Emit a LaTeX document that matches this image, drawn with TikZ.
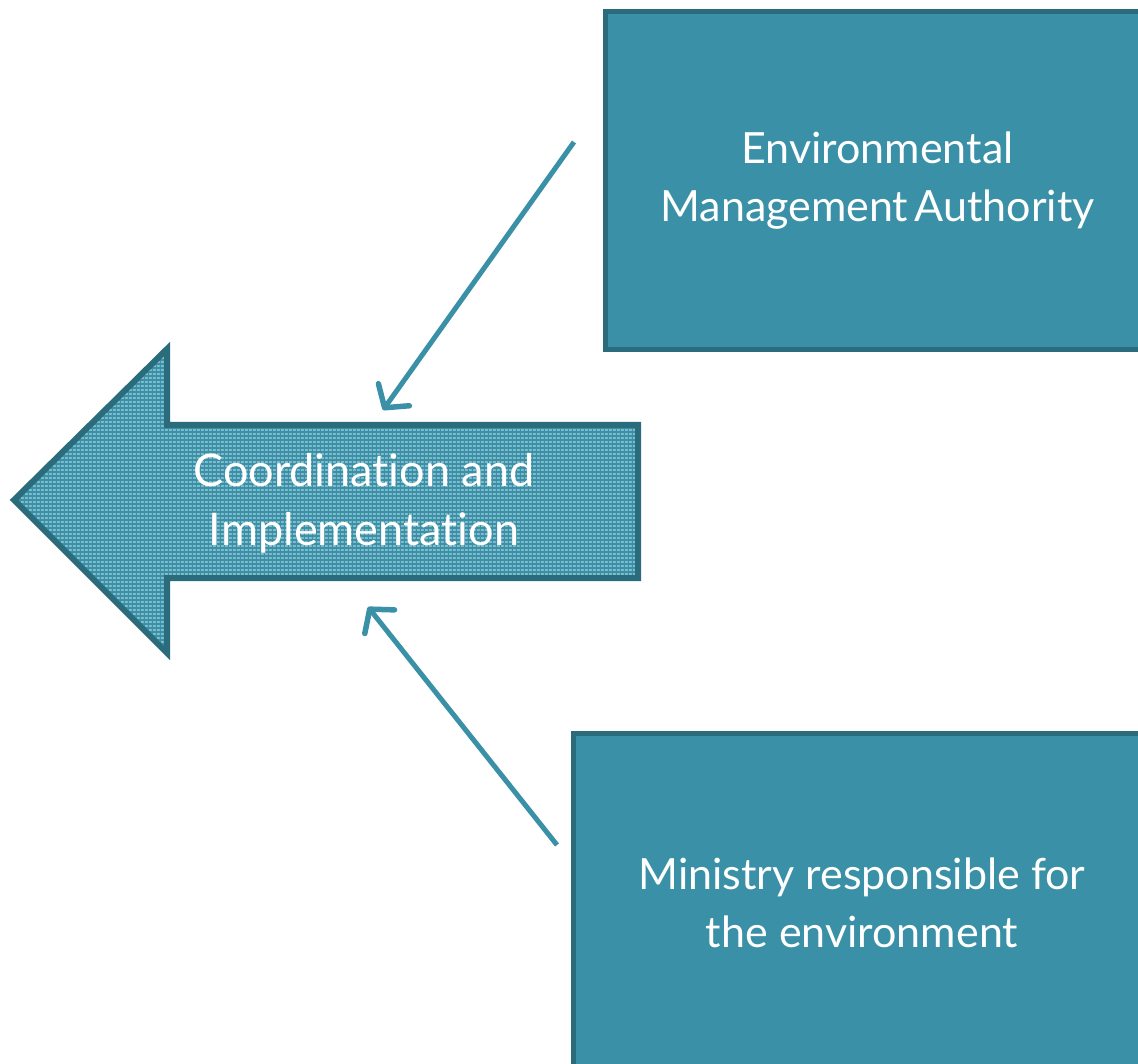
\documentclass[tikz,border=0pt]{standalone}
\usepackage{fontspec}
\setmainfont{Lato}[Ligatures={NoCommon}]
\usetikzlibrary{arrows.meta,patterns.meta}
\definecolor{boxfill}{HTML}{3A90A6}
\definecolor{boxline}{HTML}{2A6B7C}
\definecolor{arrowlight}{HTML}{82BCCA}
\pgfdeclarepattern{
  name=finegrid,
  type=uncolored,
  bottom left={\pgfpoint{-.1pt}{-.1pt}},
  top right={\pgfpoint{4.1pt}{4.1pt}},
  tile size={\pgfpoint{4pt}{4pt}},
  code={
    \pgfsetlinewidth{1.1pt}
    \pgfpathmoveto{\pgfpoint{0pt}{0pt}}\pgfpathlineto{\pgfpoint{4pt}{0pt}}
    \pgfpathmoveto{\pgfpoint{0pt}{0pt}}\pgfpathlineto{\pgfpoint{0pt}{4pt}}
    \pgfusepath{stroke}
  }
}
\tikzset{
  bluebox/.style={draw=boxline, fill=boxfill, line width=5pt, text=white,
    align=center, font=\fontsize{43}{58}\selectfont, inner sep=0pt},
  bigarrow/.style={draw=boxline, line width=6pt, line join=miter,
    preaction={fill=arrowlight}, pattern=finegrid, pattern color=boxfill},
  arrowtext/.style={text=white, align=center, font=\fontsize{45}{59}\selectfont, inner sep=0pt},
  link/.style={draw=boxfill, line width=5pt,
    -{Straight Barb[length=16pt,width=38pt,line width=5.5pt,round]}}
}
\begin{document}
\begin{tikzpicture}[x=1pt,y=-1pt]
\useasboundingbox (0,0) rectangle (1138,1064);
\clip (0,0) rectangle (1138,1064);
% boxes
\node[bluebox, minimum width=545pt, minimum height=338pt] (ema) at (877.5,181) {Environmental\\Management\hspace{0.15em}Authority};
\node[bluebox, minimum width=578pt, minimum height=340pt] (min) at (862,903) {Ministry responsible for\\the environment};
% big arrow
\draw[bigarrow] (14,500) -- (167,349) -- (167,425) -- (638,425) -- (638,578) -- (167,578) -- (167,653) -- cycle;
\node[arrowtext] (coord) at (364,503) {Coordination and\\Implementation};
% connector coordinates
\coordinate (s1) at (574,142);
\coordinate (e1) at (383,410);
\coordinate (s2) at (557,845);
\coordinate (e2) at (368,607);
\draw[link] (s1) -- (e1);
\draw[link] (s2) -- (e2);
\end{tikzpicture}
\end{document}
